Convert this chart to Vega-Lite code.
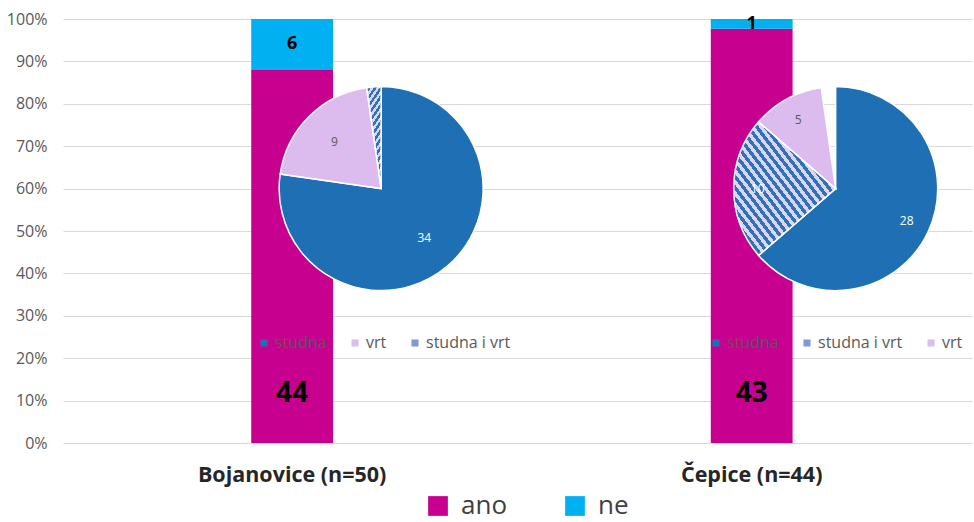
{
  "$schema": "https://vega.github.io/schema/vega-lite/v6.json",
  "width": 909,
  "height": 424,
  "autosize": {"type": "none"},
  "padding": {"left": 63, "top": 19, "right": 2, "bottom": 79},
  "config": {"font": "Open Sans", "view": {"stroke": null}},
  "datasets": {
    "bars": [
      {"loc": "Bojanovice (n=50)", "answer": "ano", "count": 44},
      {"loc": "Bojanovice (n=50)", "answer": "ne", "count": 6},
      {"loc": "Čepice (n=44)", "answer": "ano", "count": 43},
      {"loc": "Čepice (n=44)", "answer": "ne", "count": 1}
    ],
    "pies": [
      {"loc": "Bojanovice (n=50)", "type": "studna", "n": 34},
      {"loc": "Bojanovice (n=50)", "type": "vrt", "n": 9},
      {"loc": "Bojanovice (n=50)", "type": "studna i vrt", "n": 1},
      {"loc": "Čepice (n=44)", "type": "studna", "n": 28},
      {"loc": "Čepice (n=44)", "type": "studna i vrt", "n": 10},
      {"loc": "Čepice (n=44)", "type": "vrt", "n": 5}
    ]
  },
  "encoding": {
    "x": {
      "field": "loc",
      "type": "nominal",
      "scale": {"paddingInner": 0.822, "paddingOuter": 0.4, "align": 0.512},
      "axis": {"title": null, "labelAngle": 0, "labelFontSize": 21.5, "labelFontWeight": "bold", "labelColor": "#262626", "labelPadding": 21, "labelLimit": 400, "domain": false, "ticks": false, "grid": false}
    }
  },
  "layer": [
    {
      "data": {"name": "bars"},
      "mark": {"type": "bar"},
      "encoding": {
        "y": {
          "field": "count",
          "type": "quantitative",
          "stack": "normalize",
          "scale": {"domain": [0, 1]},
          "axis": {"title": null, "format": ".0%", "values": [0, 0.1, 0.2, 0.3, 0.4, 0.5, 0.6, 0.7, 0.8, 0.9, 1], "grid": true, "gridColor": "#d9d9d9", "gridWidth": 1, "domain": false, "ticks": false, "labelPadding": 16, "labelFontSize": 16, "labelColor": "#595959"}
        },
        "order": {"field": "answer", "type": "nominal", "sort": "ascending"},
        "color": {
          "field": "answer",
          "type": "nominal",
          "scale": {"domain": ["ano", "ne"], "range": ["#c8008f", "#00b0f0"]},
          "legend": {"title": null, "orient": "none", "legendX": 362, "legendY": 474, "direction": "horizontal", "symbolType": "square", "symbolSize": 390, "symbolStrokeWidth": 0, "labelFontSize": 26, "labelColor": "#404040", "labelOffset": 10, "columnPadding": 54}
        }
      }
    },
    {
      "data": {"name": "bars"},
      "transform": [
        {"stack": "count", "groupby": ["loc"], "sort": [{"field": "answer", "order": "ascending"}], "offset": "normalize", "as": ["y0", "y1"]},
        {"filter": "datum.answer === 'ne'"},
        {"calculate": "(datum.y0 + datum.y1) / 2", "as": "ymid"}
      ],
      "mark": {"type": "text", "fontSize": 18, "fontWeight": "bold", "color": "black"},
      "encoding": {
        "y": {"field": "ymid", "type": "quantitative"},
        "text": {"field": "count", "type": "quantitative"}
      }
    },
    {
      "data": {"name": "bars"},
      "transform": [{"filter": "datum.answer === 'ano'"}],
      "mark": {"type": "text", "fontSize": 28, "fontWeight": "bold", "color": "black", "dy": -49},
      "encoding": {
        "y": {"datum": 0, "type": "quantitative"},
        "text": {"field": "count", "type": "quantitative"}
      }
    },
    {
      "data": {"name": "pies"},
      "transform": [
        {"filter": "datum.loc === 'Bojanovice (n=50)'"},
        {"calculate": "indexof(['studna','vrt','studna i vrt'], datum.type)", "as": "ord"}
      ],
      "encoding": {
        "y": {"datum": 0.6, "type": "quantitative"},
        "theta": {"field": "n", "type": "quantitative", "stack": true},
        "order": {"field": "ord", "type": "quantitative"}
      },
      "layer": [
        {
          "mark": {"type": "arc", "radius": 102, "xOffset": 89, "stroke": "white", "strokeWidth": 1.5},
          "encoding": {
            "color": {
              "field": "type",
              "type": "nominal",
              "scale": {"domain": ["studna", "vrt", "studna i vrt"], "range": ["#1f6fb5", "#dcbcee", "#7d9ad6"]},
              "legend": {"title": null, "orient": "none", "legendX": 193, "legendY": 316, "direction": "horizontal", "symbolType": "square", "symbolSize": 50, "symbolStrokeWidth": 0, "labelFontSize": 16, "labelColor": "#595959", "labelOffset": 3, "columnPadding": 20},
              "condition": {
                "test": "datum.type === 'studna i vrt'",
                "value": {"gradient": "linear", "x1": 0, "y1": 1, "x2": 1, "y2": 0, "stops": [
                  {"offset": 0, "color": "#2e74b5"}, {"offset": 0.0208, "color": "#2e74b5"}, {"offset": 0.0208, "color": "#dcd4f0"}, {"offset": 0.0417, "color": "#dcd4f0"},
                  {"offset": 0.0417, "color": "#2e74b5"}, {"offset": 0.0625, "color": "#2e74b5"}, {"offset": 0.0625, "color": "#dcd4f0"}, {"offset": 0.0833, "color": "#dcd4f0"},
                  {"offset": 0.0833, "color": "#2e74b5"}, {"offset": 0.1042, "color": "#2e74b5"}, {"offset": 0.1042, "color": "#dcd4f0"}, {"offset": 0.125, "color": "#dcd4f0"},
                  {"offset": 0.125, "color": "#2e74b5"}, {"offset": 0.1458, "color": "#2e74b5"}, {"offset": 0.1458, "color": "#dcd4f0"}, {"offset": 0.1667, "color": "#dcd4f0"},
                  {"offset": 0.1667, "color": "#2e74b5"}, {"offset": 0.1875, "color": "#2e74b5"}, {"offset": 0.1875, "color": "#dcd4f0"}, {"offset": 0.2083, "color": "#dcd4f0"},
                  {"offset": 0.2083, "color": "#2e74b5"}, {"offset": 0.2292, "color": "#2e74b5"}, {"offset": 0.2292, "color": "#dcd4f0"}, {"offset": 0.25, "color": "#dcd4f0"},
                  {"offset": 0.25, "color": "#2e74b5"}, {"offset": 0.2708, "color": "#2e74b5"}, {"offset": 0.2708, "color": "#dcd4f0"}, {"offset": 0.2917, "color": "#dcd4f0"},
                  {"offset": 0.2917, "color": "#2e74b5"}, {"offset": 0.3125, "color": "#2e74b5"}, {"offset": 0.3125, "color": "#dcd4f0"}, {"offset": 0.3333, "color": "#dcd4f0"},
                  {"offset": 0.3333, "color": "#2e74b5"}, {"offset": 0.3542, "color": "#2e74b5"}, {"offset": 0.3542, "color": "#dcd4f0"}, {"offset": 0.375, "color": "#dcd4f0"},
                  {"offset": 0.375, "color": "#2e74b5"}, {"offset": 0.3958, "color": "#2e74b5"}, {"offset": 0.3958, "color": "#dcd4f0"}, {"offset": 0.4167, "color": "#dcd4f0"},
                  {"offset": 0.4167, "color": "#2e74b5"}, {"offset": 0.4375, "color": "#2e74b5"}, {"offset": 0.4375, "color": "#dcd4f0"}, {"offset": 0.4583, "color": "#dcd4f0"},
                  {"offset": 0.4583, "color": "#2e74b5"}, {"offset": 0.4792, "color": "#2e74b5"}, {"offset": 0.4792, "color": "#dcd4f0"}, {"offset": 0.5, "color": "#dcd4f0"},
                  {"offset": 0.5, "color": "#2e74b5"}, {"offset": 0.5208, "color": "#2e74b5"}, {"offset": 0.5208, "color": "#dcd4f0"}, {"offset": 0.5417, "color": "#dcd4f0"},
                  {"offset": 0.5417, "color": "#2e74b5"}, {"offset": 0.5625, "color": "#2e74b5"}, {"offset": 0.5625, "color": "#dcd4f0"}, {"offset": 0.5833, "color": "#dcd4f0"},
                  {"offset": 0.5833, "color": "#2e74b5"}, {"offset": 0.6042, "color": "#2e74b5"}, {"offset": 0.6042, "color": "#dcd4f0"}, {"offset": 0.625, "color": "#dcd4f0"},
                  {"offset": 0.625, "color": "#2e74b5"}, {"offset": 0.6458, "color": "#2e74b5"}, {"offset": 0.6458, "color": "#dcd4f0"}, {"offset": 0.6667, "color": "#dcd4f0"},
                  {"offset": 0.6667, "color": "#2e74b5"}, {"offset": 0.6875, "color": "#2e74b5"}, {"offset": 0.6875, "color": "#dcd4f0"}, {"offset": 0.7083, "color": "#dcd4f0"},
                  {"offset": 0.7083, "color": "#2e74b5"}, {"offset": 0.7292, "color": "#2e74b5"}, {"offset": 0.7292, "color": "#dcd4f0"}, {"offset": 0.75, "color": "#dcd4f0"},
                  {"offset": 0.75, "color": "#2e74b5"}, {"offset": 0.7708, "color": "#2e74b5"}, {"offset": 0.7708, "color": "#dcd4f0"}, {"offset": 0.7917, "color": "#dcd4f0"},
                  {"offset": 0.7917, "color": "#2e74b5"}, {"offset": 0.8125, "color": "#2e74b5"}, {"offset": 0.8125, "color": "#dcd4f0"}, {"offset": 0.8333, "color": "#dcd4f0"},
                  {"offset": 0.8333, "color": "#2e74b5"}, {"offset": 0.8542, "color": "#2e74b5"}, {"offset": 0.8542, "color": "#dcd4f0"}, {"offset": 0.875, "color": "#dcd4f0"},
                  {"offset": 0.875, "color": "#2e74b5"}, {"offset": 0.8958, "color": "#2e74b5"}, {"offset": 0.8958, "color": "#dcd4f0"}, {"offset": 0.9167, "color": "#dcd4f0"},
                  {"offset": 0.9167, "color": "#2e74b5"}, {"offset": 0.9375, "color": "#2e74b5"}, {"offset": 0.9375, "color": "#dcd4f0"}, {"offset": 0.9583, "color": "#dcd4f0"},
                  {"offset": 0.9583, "color": "#2e74b5"}, {"offset": 0.9792, "color": "#2e74b5"}, {"offset": 0.9792, "color": "#dcd4f0"}, {"offset": 1, "color": "#dcd4f0"}
                ]}
              }
            }
          }
        },
        {
          "mark": {"type": "text", "radius": 66, "xOffset": 89, "fontSize": 12},
          "encoding": {
            "text": {"field": "n", "type": "quantitative", "condition": {"test": "datum.n <= 1", "value": ""}},
            "color": {"condition": {"test": "datum.type === 'vrt'", "value": "#595959"}, "value": "white"}
          }
        }
      ]
    },
    {
      "data": {"name": "pies"},
      "transform": [
        {"filter": "datum.loc === 'Čepice (n=44)'"},
        {"calculate": "indexof(['studna','studna i vrt','vrt'], datum.type)", "as": "ord"}
      ],
      "encoding": {
        "y": {"datum": 0.6, "type": "quantitative"},
        "theta": {"field": "n", "type": "quantitative", "stack": true},
        "order": {"field": "ord", "type": "quantitative"}
      },
      "layer": [
        {
          "mark": {"type": "arc", "radius": 102, "xOffset": 84, "stroke": "white", "strokeWidth": 1.5},
          "encoding": {
            "color": {
              "field": "type",
              "type": "nominal",
              "scale": {"domain": ["studna", "studna i vrt", "vrt"], "range": ["#1f6fb5", "#7d9ad6", "#dcbcee"]},
              "legend": {"title": null, "orient": "none", "legendX": 645, "legendY": 316, "direction": "horizontal", "symbolType": "square", "symbolSize": 50, "symbolStrokeWidth": 0, "labelFontSize": 16, "labelColor": "#595959", "labelOffset": 3, "columnPadding": 20},
              "condition": {
                "test": "datum.type === 'studna i vrt'",
                "value": {"gradient": "linear", "x1": 0, "y1": 1, "x2": 1, "y2": 0, "stops": [
                  {"offset": 0, "color": "#2e74b5"}, {"offset": 0.0208, "color": "#2e74b5"}, {"offset": 0.0208, "color": "#dcd4f0"}, {"offset": 0.0417, "color": "#dcd4f0"},
                  {"offset": 0.0417, "color": "#2e74b5"}, {"offset": 0.0625, "color": "#2e74b5"}, {"offset": 0.0625, "color": "#dcd4f0"}, {"offset": 0.0833, "color": "#dcd4f0"},
                  {"offset": 0.0833, "color": "#2e74b5"}, {"offset": 0.1042, "color": "#2e74b5"}, {"offset": 0.1042, "color": "#dcd4f0"}, {"offset": 0.125, "color": "#dcd4f0"},
                  {"offset": 0.125, "color": "#2e74b5"}, {"offset": 0.1458, "color": "#2e74b5"}, {"offset": 0.1458, "color": "#dcd4f0"}, {"offset": 0.1667, "color": "#dcd4f0"},
                  {"offset": 0.1667, "color": "#2e74b5"}, {"offset": 0.1875, "color": "#2e74b5"}, {"offset": 0.1875, "color": "#dcd4f0"}, {"offset": 0.2083, "color": "#dcd4f0"},
                  {"offset": 0.2083, "color": "#2e74b5"}, {"offset": 0.2292, "color": "#2e74b5"}, {"offset": 0.2292, "color": "#dcd4f0"}, {"offset": 0.25, "color": "#dcd4f0"},
                  {"offset": 0.25, "color": "#2e74b5"}, {"offset": 0.2708, "color": "#2e74b5"}, {"offset": 0.2708, "color": "#dcd4f0"}, {"offset": 0.2917, "color": "#dcd4f0"},
                  {"offset": 0.2917, "color": "#2e74b5"}, {"offset": 0.3125, "color": "#2e74b5"}, {"offset": 0.3125, "color": "#dcd4f0"}, {"offset": 0.3333, "color": "#dcd4f0"},
                  {"offset": 0.3333, "color": "#2e74b5"}, {"offset": 0.3542, "color": "#2e74b5"}, {"offset": 0.3542, "color": "#dcd4f0"}, {"offset": 0.375, "color": "#dcd4f0"},
                  {"offset": 0.375, "color": "#2e74b5"}, {"offset": 0.3958, "color": "#2e74b5"}, {"offset": 0.3958, "color": "#dcd4f0"}, {"offset": 0.4167, "color": "#dcd4f0"},
                  {"offset": 0.4167, "color": "#2e74b5"}, {"offset": 0.4375, "color": "#2e74b5"}, {"offset": 0.4375, "color": "#dcd4f0"}, {"offset": 0.4583, "color": "#dcd4f0"},
                  {"offset": 0.4583, "color": "#2e74b5"}, {"offset": 0.4792, "color": "#2e74b5"}, {"offset": 0.4792, "color": "#dcd4f0"}, {"offset": 0.5, "color": "#dcd4f0"},
                  {"offset": 0.5, "color": "#2e74b5"}, {"offset": 0.5208, "color": "#2e74b5"}, {"offset": 0.5208, "color": "#dcd4f0"}, {"offset": 0.5417, "color": "#dcd4f0"},
                  {"offset": 0.5417, "color": "#2e74b5"}, {"offset": 0.5625, "color": "#2e74b5"}, {"offset": 0.5625, "color": "#dcd4f0"}, {"offset": 0.5833, "color": "#dcd4f0"},
                  {"offset": 0.5833, "color": "#2e74b5"}, {"offset": 0.6042, "color": "#2e74b5"}, {"offset": 0.6042, "color": "#dcd4f0"}, {"offset": 0.625, "color": "#dcd4f0"},
                  {"offset": 0.625, "color": "#2e74b5"}, {"offset": 0.6458, "color": "#2e74b5"}, {"offset": 0.6458, "color": "#dcd4f0"}, {"offset": 0.6667, "color": "#dcd4f0"},
                  {"offset": 0.6667, "color": "#2e74b5"}, {"offset": 0.6875, "color": "#2e74b5"}, {"offset": 0.6875, "color": "#dcd4f0"}, {"offset": 0.7083, "color": "#dcd4f0"},
                  {"offset": 0.7083, "color": "#2e74b5"}, {"offset": 0.7292, "color": "#2e74b5"}, {"offset": 0.7292, "color": "#dcd4f0"}, {"offset": 0.75, "color": "#dcd4f0"},
                  {"offset": 0.75, "color": "#2e74b5"}, {"offset": 0.7708, "color": "#2e74b5"}, {"offset": 0.7708, "color": "#dcd4f0"}, {"offset": 0.7917, "color": "#dcd4f0"},
                  {"offset": 0.7917, "color": "#2e74b5"}, {"offset": 0.8125, "color": "#2e74b5"}, {"offset": 0.8125, "color": "#dcd4f0"}, {"offset": 0.8333, "color": "#dcd4f0"},
                  {"offset": 0.8333, "color": "#2e74b5"}, {"offset": 0.8542, "color": "#2e74b5"}, {"offset": 0.8542, "color": "#dcd4f0"}, {"offset": 0.875, "color": "#dcd4f0"},
                  {"offset": 0.875, "color": "#2e74b5"}, {"offset": 0.8958, "color": "#2e74b5"}, {"offset": 0.8958, "color": "#dcd4f0"}, {"offset": 0.9167, "color": "#dcd4f0"},
                  {"offset": 0.9167, "color": "#2e74b5"}, {"offset": 0.9375, "color": "#2e74b5"}, {"offset": 0.9375, "color": "#dcd4f0"}, {"offset": 0.9583, "color": "#dcd4f0"},
                  {"offset": 0.9583, "color": "#2e74b5"}, {"offset": 0.9792, "color": "#2e74b5"}, {"offset": 0.9792, "color": "#dcd4f0"}, {"offset": 1, "color": "#dcd4f0"}
                ]}
              }
            }
          }
        },
        {
          "mark": {"type": "text", "radius": 78, "xOffset": 84, "fontSize": 12},
          "encoding": {
            "text": {"field": "n", "type": "quantitative", "condition": {"test": "datum.n <= 1", "value": ""}},
            "color": {"condition": {"test": "datum.type === 'vrt'", "value": "#595959"}, "value": "white"}
          }
        }
      ]
    }
  ],
  "resolve": {"scale": {"color": "independent"}, "legend": {"color": "independent"}}
}
